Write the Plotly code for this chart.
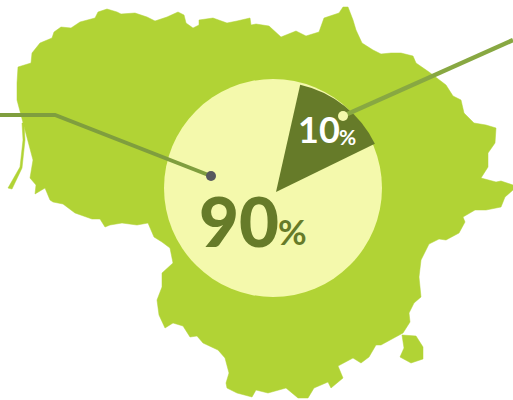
import plotly.graph_objects as go

# Country outline (image pixel units)
outline_x = [18,27,31,32,40,52,54,61,71,80,95,98,107,117,121,135,147,155,167,178,184,186,193,199,199,213,227,237,250,251,256,269,281,296,306,319,324,339,343,348,353,356,362,373,381,391,401,413,416,429,446,453,461,464,474,486,496,495,488,488,481,496,501,513,513,505,501,486,475,463,465,459,446,439,429,421,419,421,414,409,410,403,394,381,376,369,361,353,338,343,331,328,314,308,298,286,268,256,252,237,227,226,229,225,218,203,197,190,183,173,165,159,157,162,162,173,170,162,154,148,137,122,110,105,100,92,75,63,53,50,45,35,36,30,33,25,17,17,18]
outline_y = [67,64,63,53,43,38,32,27,28,22,18,12,9,12,14,13,17,21,17,12,15,23,28,25,20,18,23,21,18,25,24,26,37,31,36,32,18,13,7,7,20,30,43,50,54,53,53,56,63,72,85,96,100,113,123,125,128,143,153,167,178,182,181,185,190,197,207,210,210,217,222,233,240,239,244,260,277,297,303,313,322,333,338,345,345,357,363,358,366,378,388,382,388,398,398,388,393,390,397,393,388,383,373,358,350,343,336,337,326,323,328,315,300,287,273,263,248,242,237,223,225,223,225,227,219,219,213,204,202,200,188,194,185,178,160,130,100,83,67]
exclave_x = [402,416,423,423,411,400,404,402]
exclave_y = [335,336,347,359,363,357,348,335]
spit_x = [22,23,20,8,12,22,25,24,22]
spit_y = [123,140,167,188,189,168,140,123,123]

# Pie: a full light disc and the dark wedge as drawn (the wedge's tip sits off the disc centre)
disc_share = [100]
disc_center = (273, 188)
disc_radius = 109
wedge_shares = [14.25, 85.75]
wedge_start_deg = 12.7
wedge_center = (276, 192)
wedge_radius = 110
LIGHT = "#F4F9AC"
DARK = "#667B29"

# Leader lines and dots
left_line_x = [0, 55, 211]
left_line_y = [115, 115, 176]
right_line_x = [513, 343]
right_line_y = [40, 116]
left_dot = (211, 176)
right_dot = (343, 116)

W, H = 513, 400
MAP_GREEN = "#B1D335"

fig = go.Figure()
for xs, ys in [(outline_x, outline_y), (exclave_x, exclave_y), (spit_x, spit_y)]:
    fig.add_trace(go.Scatter(x=xs, y=ys, mode="lines", fill="toself",
                             fillcolor=MAP_GREEN, line=dict(color=MAP_GREEN, width=0.5),
                             hoverinfo="skip", showlegend=False))

def domain(center, r):
    cx, cy = center
    return dict(x=[(cx - r) / W, (cx + r) / W], y=[1 - (cy + r) / H, 1 - (cy - r) / H])

fig.add_trace(go.Pie(values=disc_share, textinfo="none", showlegend=False, hoverinfo="skip",
                     marker=dict(colors=[LIGHT], line=dict(width=0)),
                     domain=domain(disc_center, disc_radius)))
fig.add_trace(go.Pie(values=wedge_shares, sort=False, direction="clockwise",
                     rotation=wedge_start_deg, textinfo="none", showlegend=False, hoverinfo="skip",
                     marker=dict(colors=[DARK, "rgba(0,0,0,0)"], line=dict(width=0)),
                     domain=domain(wedge_center, wedge_radius)))

def polyline(xs, ys):
    return "M " + " L ".join(f"{x} {y}" for x, y in zip(xs, ys))

shapes = [
    dict(type="path", path=polyline(left_line_x, left_line_y), xref="x", yref="y",
         line=dict(color="#7F9E3E", width=4), layer="above"),
    dict(type="path", path=polyline(right_line_x, right_line_y), xref="x", yref="y",
         line=dict(color="#88A842", width=4.5), layer="above"),
]
for (x, y), col in [(left_dot, "#57585E"), (right_dot, LIGHT)]:
    shapes.append(dict(type="circle", xref="x", yref="y", x0=x - 5, x1=x + 5, y0=y - 5, y1=y + 5,
                       fillcolor=col, line=dict(width=0), layer="above"))

FONT = "Lato"
def label(x, y, text, size, color, weight=800):
    return dict(x=x, y=y, xref="x", yref="y", text=text,
                showarrow=False, xanchor="left", yanchor="bottom",
                font=dict(family=FONT, size=size, color=color, weight=weight))

annotations = [
    label(296, 153, "10", 36, "white", 700),
    label(337, 151, "%", 21, "white", 700),
    label(196.5, 264, "90", 69, "#667B29", 900),
    label(276, 254, "%", 35, "#667B29", 700),
]

fig.update_layout(
    width=W, height=H, margin=dict(l=0, r=0, t=0, b=0),
    paper_bgcolor="white", plot_bgcolor="white", showlegend=False,
    xaxis=dict(range=[0, W], visible=False, fixedrange=True),
    yaxis=dict(range=[H, 0], visible=False, fixedrange=True),
    shapes=shapes, annotations=annotations,
)
fig.write_html("out.html", config=dict(displayModeBar=False),
               post_script="document.body.style.margin='0';document.documentElement.style.overflow='hidden';")
